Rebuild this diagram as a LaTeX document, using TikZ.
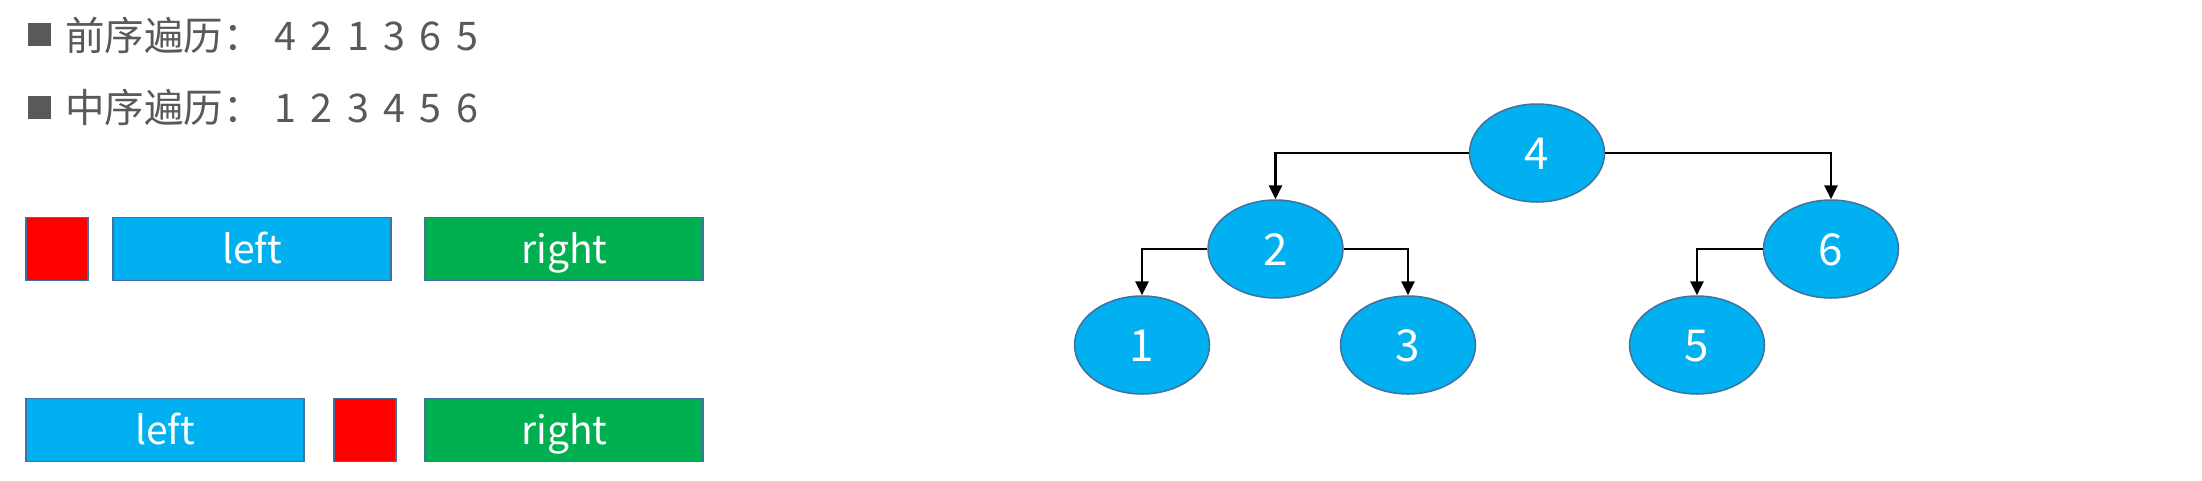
\documentclass[tikz,border=0pt]{standalone}
\usepackage{fontspec}
\setmainfont{Noto Sans CJK SC}
\usetikzlibrary{shapes.geometric,arrows.meta}
\definecolor{txtgray}{HTML}{595959}
\definecolor{skyblue}{HTML}{00B0F0}
\definecolor{okgreen}{HTML}{00B050}
\definecolor{pured}{HTML}{FF0000}
\definecolor{edgeblue}{HTML}{41719C}
\newcommand{\dg}[1]{\makebox[36.4pt][c]{#1}}
\tikzset{
  bulletsq/.style={fill=txtgray, draw=none, minimum size=23pt, inner sep=0pt},
  line/.style={anchor=base west, inner sep=0pt, text=txtgray, font=\fontsize{39.5}{44}\selectfont},
  part/.style={draw=edgeblue, line width=1.8pt, minimum height=63pt, inner sep=0pt,
    text=white, font=\fontsize{39}{44}\selectfont, text height=29pt, text depth=1pt},
  rootbox/.style={part, fill=pured, minimum width=62pt},
  leftbox/.style={part, fill=skyblue, minimum width=278pt},
  rightbox/.style={part, fill=okgreen, minimum width=278pt},
  tnode/.style={ellipse, draw=edgeblue, line width=1.5pt, fill=skyblue, minimum width=135pt,
    minimum height=98pt, inner sep=0pt, text=white, font=\fontsize{44}{48}\selectfont,
    text height=32pt, text depth=0pt},
  link/.style={draw=black, line width=2.7pt, -{Triangle[width=13pt,length=14pt]}}
}
\begin{document}
\begin{tikzpicture}[x=1pt, y=-1pt]
\useasboundingbox (0,0) rectangle (2202,480);
% text lines
\node[bulletsq] (b1) at (39,34.3) {};
\node[line] (t1) at (65,50) {前序遍历：\hspace{4.3pt}\dg{4}\dg{2}\dg{1}\dg{3}\dg{6}\dg{5}};
\node[bulletsq] (b2) at (39,107) {};
\node[line] (t2) at (65,122) {中序遍历：\hspace{4.3pt}\dg{1}\dg{2}\dg{3}\dg{4}\dg{5}\dg{6}};
% preorder row
\node[rootbox] (r1) at (57.2,249) {};
\node[leftbox] (l1) at (252.3,249) {left};
\node[rightbox] (g1) at (564.3,249) {right};
% inorder row
\node[leftbox] (l2) at (165.3,430) {left};
\node[rootbox] (r2) at (364.8,430) {};
\node[rightbox] (g2) at (564.3,430) {right};
% tree
\node[tnode] (n4) at (1537,153) {4};
\node[tnode] (n2) at (1275.5,249) {2};
\node[tnode] (n6) at (1831,249) {6};
\node[tnode] (n1) at (1142,345) {1};
\node[tnode] (n3) at (1408,345) {3};
\node[tnode] (n5) at (1697,345) {5};
\draw[link] (n4.west) -| (n2.north);
\draw[link] (n4.east) -| (n6.north);
\draw[link] (n2.west) -| (n1.north);
\draw[link] (n2.east) -| (n3.north);
\draw[link] (n6.west) -| (n5.north);
\end{tikzpicture}
\end{document}
